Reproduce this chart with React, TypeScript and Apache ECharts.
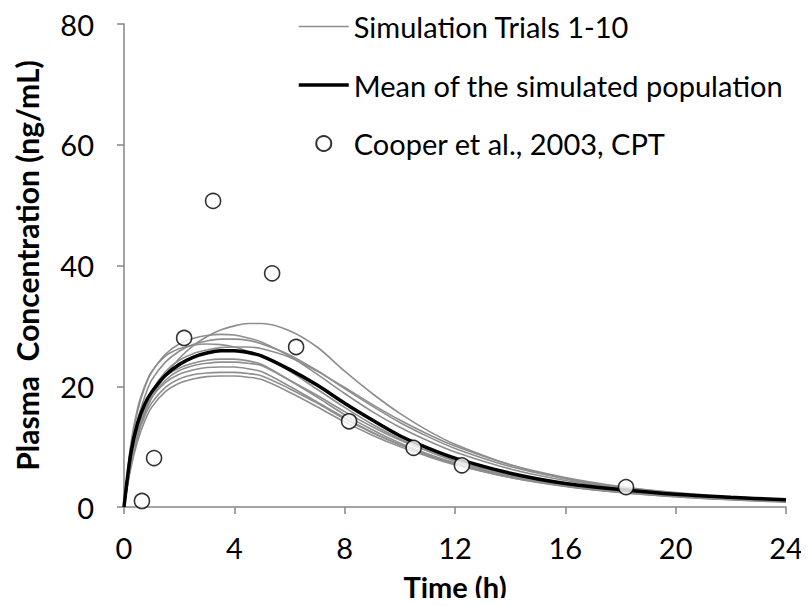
import React, { useEffect, useRef } from "react";
import * as echarts from "echarts";

const TIMES = [0, 0.25, 0.5, 0.75, 1, 1.5, 2, 2.5, 3, 3.5, 4, 4.5, 5, 6, 7, 8, 9, 10, 11, 12, 14, 16, 18, 20, 22, 24];

const trial1 = [0, 7, 12, 15.5, 18, 21.8, 24.6, 26.7, 28.2, 29.3, 30, 30.4, 30.4, 29.2, 26.5, 22.5, 18.8, 15.5, 12.7, 10.4, 7.0, 4.7, 3.2, 2.2, 1.5, 1.0];
const trial2 = [0, 10, 16, 19.8, 22.3, 25.3, 27, 27.9, 28.4, 28.6, 28.5, 28, 27.3, 25, 22, 18.8, 15.8, 13.2, 11, 9.1, 6.3, 4.4, 3.1, 2.2, 1.6, 1.1];
const trial3 = [0, 9, 14.5, 18.2, 21, 24, 25.8, 26.9, 27.5, 27.8, 27.8, 27.6, 27, 25.2, 22.6, 19.6, 16.7, 14, 11.7, 9.7, 6.7, 4.7, 3.3, 2.3, 1.6, 1.1];
const trial4 = [0, 10.5, 16.5, 20, 22.4, 25, 26.2, 26.8, 27, 26.9, 26.5, 25.8, 25, 22.5, 19.5, 16.5, 13.7, 11.3, 9.3, 7.6, 5.1, 3.5, 2.4, 1.7, 1.2, 0.8];
const trial5 = [0, 8, 13, 16.5, 19.2, 22.4, 24.3, 25.4, 26, 26.4, 26.5, 26.5, 26.2, 24.8, 22.5, 19.8, 17, 14.4, 12.1, 10.1, 7, 4.9, 3.4, 2.4, 1.7, 1.2];
const trial6 = [0, 8.5, 13.5, 16.8, 19, 21.6, 23, 23.8, 24.3, 24.5, 24.5, 24.2, 23.6, 21, 18.2, 15.3, 12.8, 10.6, 8.8, 7.3, 5, 3.5, 2.5, 1.8, 1.3, 0.9];
const trial7 = [0, 7.5, 12.5, 15.8, 18.2, 21, 22.6, 23.4, 23.8, 24, 24, 23.8, 23.4, 21, 18.5, 15.8, 13.3, 11.1, 9.3, 7.7, 5.3, 3.7, 2.6, 1.9, 1.4, 1];
const trial8 = [0, 8, 12.8, 16, 18.2, 20.6, 22, 22.7, 23.1, 23.2, 23.2, 22.9, 22.4, 20, 17.4, 14.8, 12.4, 10.3, 8.6, 7.1, 4.9, 3.4, 2.4, 1.7, 1.2, 0.9];
const trial9 = [0, 7, 11.8, 15, 17.2, 19.8, 21.2, 21.9, 22.2, 22.3, 22.3, 22.1, 21.7, 19.6, 17.2, 14.6, 12.3, 10.3, 8.6, 7.2, 5, 3.5, 2.5, 1.8, 1.3, 0.9];
const trial10 = [0, 6.5, 11, 14.2, 16.5, 19.1, 20.5, 21.2, 21.6, 21.7, 21.7, 21.5, 21.1, 19, 16.6, 14.1, 11.9, 10, 8.4, 7, 4.9, 3.5, 2.5, 1.8, 1.3, 0.9];
const TRIALS = [trial1, trial2, trial3, trial4, trial5, trial6, trial7, trial8, trial9, trial10];

const meanConc = [0, 9, 14, 17, 19, 21.8, 23.6, 24.8, 25.5, 25.9, 25.9, 25.6, 25, 22.8, 20.2, 17.2, 14.4, 11.8, 9.8, 8.1, 5.6, 3.9, 2.9, 2.1, 1.6, 1.2];

const obsTime = [0.65, 1.09, 2.18, 3.23, 5.37, 6.24, 8.16, 10.5, 12.25, 18.2];
const obsConc = [1.0, 8.1, 28.0, 50.7, 38.7, 26.5, 14.2, 9.8, 6.9, 3.3];

const X_TICKS = [0, 4, 8, 12, 16, 20, 24];
const Y_TICKS = [0, 20, 40, 60, 80];

const TRIAL_NAME = "Simulation Trials 1-10";
const MEAN_NAME = "Mean of the simulated population";
const OBS_NAME = "Cooper et al., 2003, CPT";

const FONT = "Lato, 'Open Sans', sans-serif";

export default function App() {
  const ref = useRef<HTMLDivElement>(null);
  useEffect(() => {
    if (!ref.current) return;
    const chart = echarts.init(ref.current, undefined, { renderer: "svg" });
    const axisColor = "#868686";
    const series: any[] = TRIALS.map((tr) => ({
      name: TRIAL_NAME,
      type: "line",
      data: TIMES.map((t, i) => [t, tr[i]]),
      smooth: 0.3,
      symbol: "none",
      lineStyle: { color: "#8e8e8e", width: 1.6 },
      itemStyle: { color: "#8e8e8e" },
      z: 2,
    }));
    series.push({
      name: MEAN_NAME,
      type: "line",
      data: TIMES.map((t, i) => [t, meanConc[i]]),
      smooth: 0.3,
      symbol: "none",
      lineStyle: { color: "#000", width: 3.5 },
      itemStyle: { color: "#000" },
      z: 3,
    });
    series.push({
      name: OBS_NAME,
      type: "scatter",
      data: obsTime.map((t, i) => [t, obsConc[i]]),
      symbol: "circle",
      symbolSize: 15,
      itemStyle: { color: "#fff", borderColor: "#000", borderWidth: 1.6 },
      z: 4,
    });
    const hidden = { color: "rgba(0,0,0,0)", borderWidth: 0, opacity: 0 };
    chart.setOption({
      animation: false,
      backgroundColor: "#fff",
      textStyle: { fontFamily: FONT },
      grid: { left: 124, right: 23, top: 24, bottom: 98, containLabel: false },
      legend: {
        orient: "vertical",
        left: 297,
        top: 12,
        padding: 0,
        itemWidth: 50,
        itemHeight: 15,
        itemGap: 29.5,
        data: [
          { name: TRIAL_NAME, itemStyle: hidden, lineStyle: { color: "#8e8e8e", width: 1.6 } },
          { name: MEAN_NAME, itemStyle: hidden, lineStyle: { color: "#000", width: 3.5 } },
          { name: OBS_NAME },
        ],
        textStyle: { fontFamily: FONT, fontSize: 29, color: "#000" },
      },
      xAxis: {
        type: "value",
        min: X_TICKS[0],
        max: X_TICKS[X_TICKS.length - 1],
        interval: 4,
        name: "Time (h)",
        nameLocation: "middle",
        nameGap: 65,
        nameTextStyle: { fontFamily: FONT, fontSize: 29, fontWeight: "bold", color: "#000" },
        axisLine: { lineStyle: { color: axisColor, width: 1.5 } },
        axisTick: { show: true, length: 7, lineStyle: { color: axisColor, width: 1.5 } },
        axisLabel: { fontSize: 29, color: "#000", margin: 26, fontFamily: FONT },
        splitLine: { show: false },
      },
      yAxis: {
        type: "value",
        min: Y_TICKS[0],
        max: Y_TICKS[Y_TICKS.length - 1],
        interval: 20,
        name: "Plasma  Concentration (ng/mL)",
        nameLocation: "middle",
        nameGap: 82,
        nameTextStyle: { fontFamily: FONT, fontSize: 30, fontWeight: "bold", color: "#000" },
        axisLine: { show: true, lineStyle: { color: axisColor, width: 1.5 } },
        axisTick: { show: true, length: 7, lineStyle: { color: axisColor, width: 1.5 } },
        axisLabel: { fontSize: 29, color: "#000", margin: 30, fontFamily: FONT },
        splitLine: { show: false },
      },
      series,
    });
    return () => chart.dispose();
  }, []);
  return <div ref={ref} style={{ width: 809, height: 606, margin: -8 }} />;
}
